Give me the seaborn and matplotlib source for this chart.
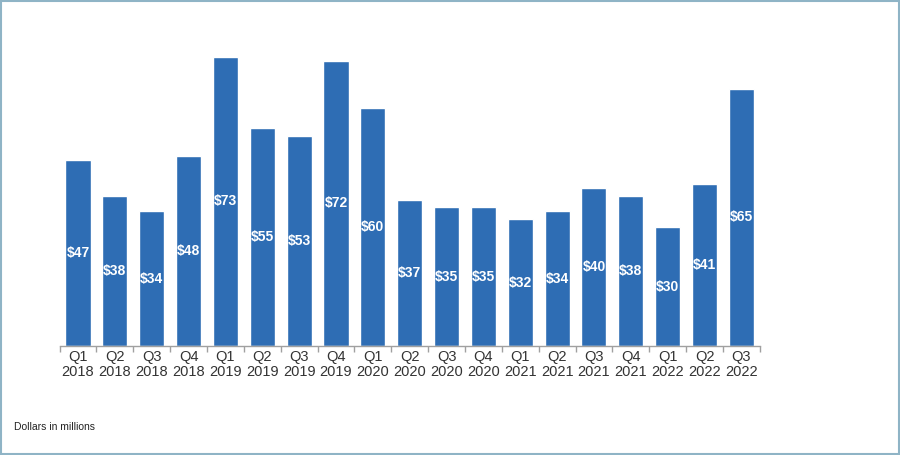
# quarterly amounts chart, dollars in millions
import matplotlib
matplotlib.use("Agg")
import matplotlib.pyplot as plt
from matplotlib.patches import Rectangle
import seaborn as sns
import pandas as pd
import numpy as np

quarters = ["Q1", "Q2", "Q3", "Q4", "Q1", "Q2", "Q3", "Q4", "Q1", "Q2",
            "Q3", "Q4", "Q1", "Q2", "Q3", "Q4", "Q1", "Q2", "Q3"]
years = ["2018", "2018", "2018", "2018", "2019", "2019", "2019", "2019", "2020", "2020",
         "2020", "2020", "2021", "2021", "2021", "2021", "2022", "2022", "2022"]
values = [47, 38, 34, 48, 73, 55, 53, 72, 60, 37, 35, 35, 32, 34, 40, 38, 30, 41, 65]

df = pd.DataFrame({
    "period": [f"{q}\n{y}" for q, y in zip(quarters, years)],
    "amount": values,
})

sns.set_style("white")
plt.rcParams["font.family"] = ["Liberation Sans", "DejaVu Sans"]

bar_color = "#2e6db4"

fig = plt.figure(figsize=(9, 4.55), dpi=100)
fig.patch.set_facecolor("white")

# thin frame round the whole picture
fig.add_artist(Rectangle((1 / 900, 1 / 455), 898 / 900, 453 / 455,
                         transform=fig.transFigure, fill=False,
                         edgecolor="#8fb4c6", linewidth=1.5))

ax = fig.add_axes([0.0662, 0.2396, 0.778, 0.6725])
sns.barplot(data=df, x="period", y="amount", color=bar_color, width=0.68,
            saturation=1, ax=ax)

ax.set_xlim(-0.5, len(values) - 0.5)
ax.set_ylim(0, 77.3)

# value labels in the middle of each bar
for i, v in enumerate(df["amount"]):
    ax.text(i, v / 2, f"${v}", ha="center", va="center", color="white",
            fontsize=10, fontweight="bold")

# only the bottom axis line, ticks between the bars
for side in ["top", "right", "left"]:
    ax.spines[side].set_visible(False)
ax.spines["bottom"].set_color("#a0a0a0")
ax.spines["bottom"].set_linewidth(1)
ax.set_yticks([])
ax.set_xlabel("")
ax.set_ylabel("")
ax.tick_params(axis="x", which="major", length=0, labelsize=10.5,
               labelcolor="#333333", pad=3)
for lbl in ax.get_xticklabels():
    lbl.set_linespacing(1.05)
ax.set_xticks(np.arange(-0.5, len(values), 1), minor=True)
ax.tick_params(axis="x", which="minor", bottom=True, length=4,
               color="#a0a0a0", width=1)

fig.text(14 / 900, 1 - 427 / 455, "Dollars in millions", fontsize=7.5,
         color="#222222", va="center", ha="left")

fig.savefig("out.png", dpi=100, facecolor=fig.get_facecolor())
